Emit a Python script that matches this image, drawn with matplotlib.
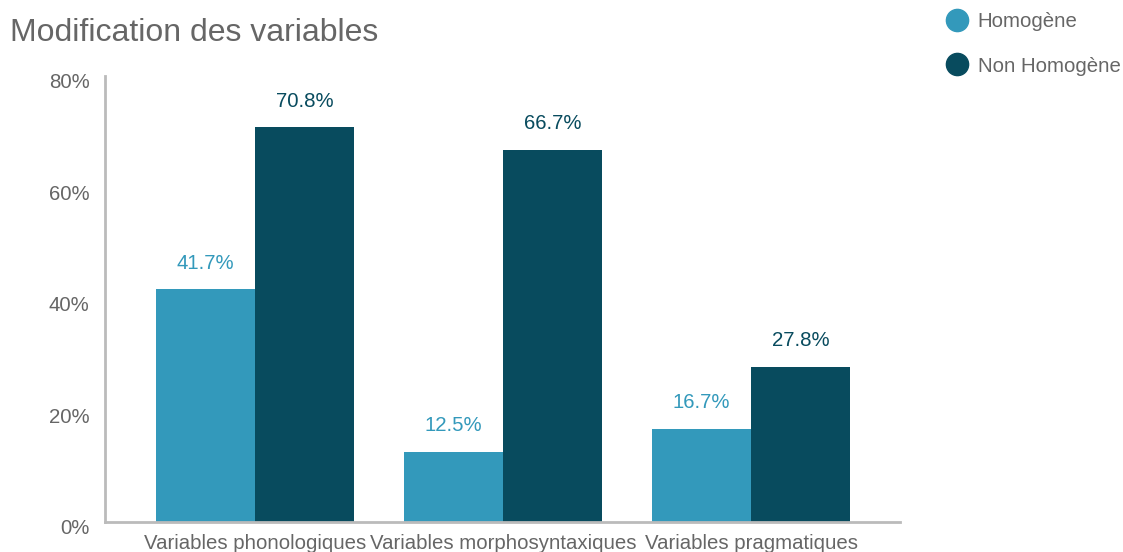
import matplotlib.pyplot as plt
import numpy as np
from matplotlib.lines import Line2D
from matplotlib.transforms import ScaledTranslation

categories = ['Variables phonologiques', 'Variables morphosyntaxiques', 'Variables pragmatiques']
homogene = [41.7, 12.5, 16.7]
non_homogene = [70.8, 66.7, 27.8]
series_names = ['Homogène', 'Non Homogène']
y_ticks = [0, 20, 40, 60, 80]

plt.rcParams['font.family'] = ['Liberation Sans', 'DejaVu Sans']

col_h = '#3399bb'
col_n = '#084b5e'
grey = '#666666'
fs = 14.7

fig = plt.figure(figsize=(11.23, 5.52), dpi=100)
ax = fig.add_axes([105 / 1123, 30.5 / 552, 795 / 1123, 445.5 / 552])

x = np.arange(len(categories))
w = 0.4
b1 = ax.bar(x - w / 2, homogene, w, color=col_h)
b2 = ax.bar(x + w / 2, non_homogene, w, color=col_n)

for bars, vals, c in [(b1, homogene, col_h), (b2, non_homogene, col_n)]:
    for rect, v in zip(bars, vals):
        ax.annotate('%.1f%%' % v, (rect.get_x() + rect.get_width() / 2, v),
                    xytext=(0, 12), textcoords='offset points',
                    ha='center', va='bottom', fontsize=fs, color=c)

ax.set_xlim(-0.605, 2.6)
ax.set_ylim(0, 80)
ax.set_yticks(y_ticks)
ax.set_yticklabels(['%d%%' % t for t in y_ticks])
ax.set_xticks(x)
ax.set_xticklabels(categories)
ax.tick_params(axis='both', length=0, labelsize=fs, labelcolor=grey)
ax.tick_params(axis='y', pad=11)
ax.tick_params(axis='x', pad=9)

# y labels sit a little below their gridline value
shift = ScaledTranslation(0, -5 / 100, fig.dpi_scale_trans)
for lab in ax.get_yticklabels():
    lab.set_transform(lab.get_transform() + shift)

for s in ['top', 'right']:
    ax.spines[s].set_visible(False)
for s in ['left', 'bottom']:
    ax.spines[s].set_color('#bbbbbb')
    ax.spines[s].set_linewidth(2)

fig.text(10 / 1123, 1 - 33 / 552, 'Modification des variables', fontsize=23,
         color=grey, va='center', ha='left')

handles = [Line2D([], [], marker='o', linestyle='', markersize=16, color=c)
           for c in [col_h, col_n]]
fig.legend(handles, series_names, loc='upper left', bbox_to_anchor=(945 / 1123, 1 - 12 / 552),
           frameon=False, fontsize=fs, labelcolor=grey, handletextpad=0.4,
           labelspacing=1.25, handlelength=1.2, borderpad=0, borderaxespad=0)

fig.savefig('out.png', dpi=100)
